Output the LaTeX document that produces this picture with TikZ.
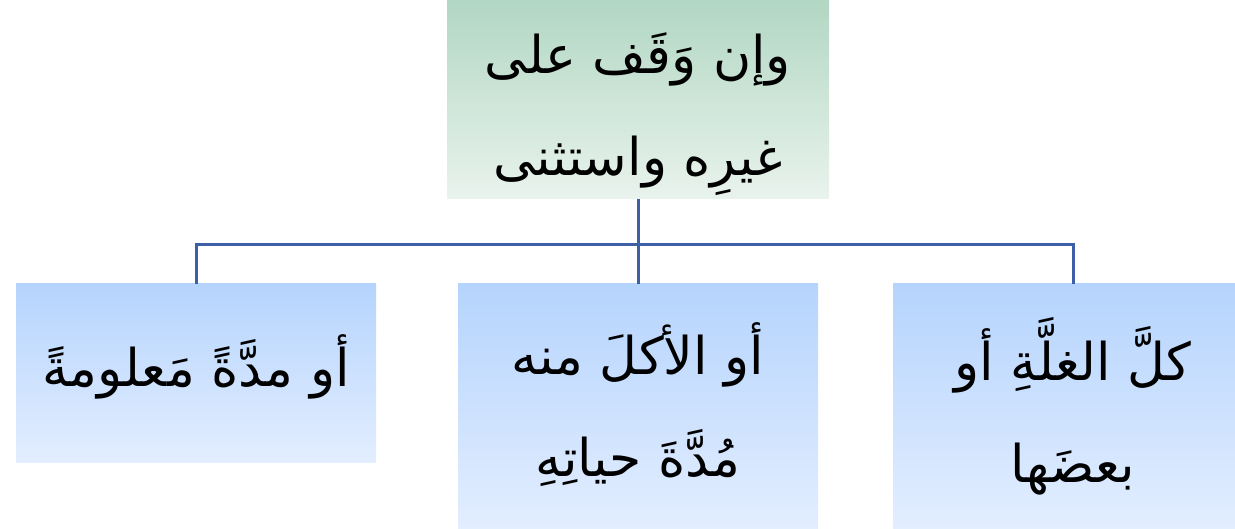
\documentclass[tikz,border=0pt]{standalone}
\usepackage{fontspec}
\newfontfamily\arabicfont[Script=Arabic]{DejaVu Sans}
\TeXXeTstate=1
\definecolor{linkblue}{HTML}{3D5FA6}
\definecolor{greentop}{HTML}{B2D7C3}
\definecolor{greenbot}{HTML}{E9F3ED}
\definecolor{bluetop}{HTML}{B5D4FD}
\definecolor{bluebot}{HTML}{E3EEFF}
\tikzset{
  headbox/.style={rectangle, inner sep=0pt, top color=greentop, bottom color=greenbot},
  leafbox/.style={rectangle, inner sep=0pt, top color=bluetop, bottom color=bluebot},
  boxtext/.style={inner sep=0pt, align=center, font=\arabicfont\fontsize{52}{102}\selectfont},
  link/.style={draw=linkblue, line width=3pt}
}
\begin{document}
\begin{tikzpicture}[x=1pt, y=-1pt]
\useasboundingbox (0,0) rectangle (1235,529);
\clip (0,0) rectangle (1235,529);
% root box and its two lines
\node[headbox, minimum width=382pt, minimum height=198pt] (root) at (638,100) {};
\node[boxtext] (roottext) at ([yshift=-14pt]root.center)
  {\beginR وإن وَقَف على\endR\\\beginR غيرِه واستثنى\endR};
% three child boxes
\node[leafbox, minimum width=360pt, minimum height=178pt] (left) at (196,373) {};
\node[boxtext] (lefttext) at ([yshift=6pt]left.center)
  {\beginR أو مدَّةً مَعلومةً\endR};
\node[leafbox, minimum width=360pt, minimum height=245pt] (mid) at (638,406.5) {};
\node[boxtext] (midtext) at ([yshift=2pt]mid.center)
  {\beginR أو الأكلَ منه\endR\\\beginR مُدَّةَ حياتِهِ\endR};
\node[leafbox, minimum width=360pt, minimum height=245pt] (right) at (1073,406.5) {};
\node[boxtext] (righttext) at ([yshift=0pt]right.center)
  {\beginR كلَّ الغلَّةِ أو\endR\\\beginR بعضَها\endR};
% connectors
\coordinate (bus) at (638,245);
\draw[link] (root.south) -- (mid.north);
\draw[link] (left.north) -- (left.north |- bus) -- (right.north |- bus) -- (right.north);
\end{tikzpicture}
\end{document}
